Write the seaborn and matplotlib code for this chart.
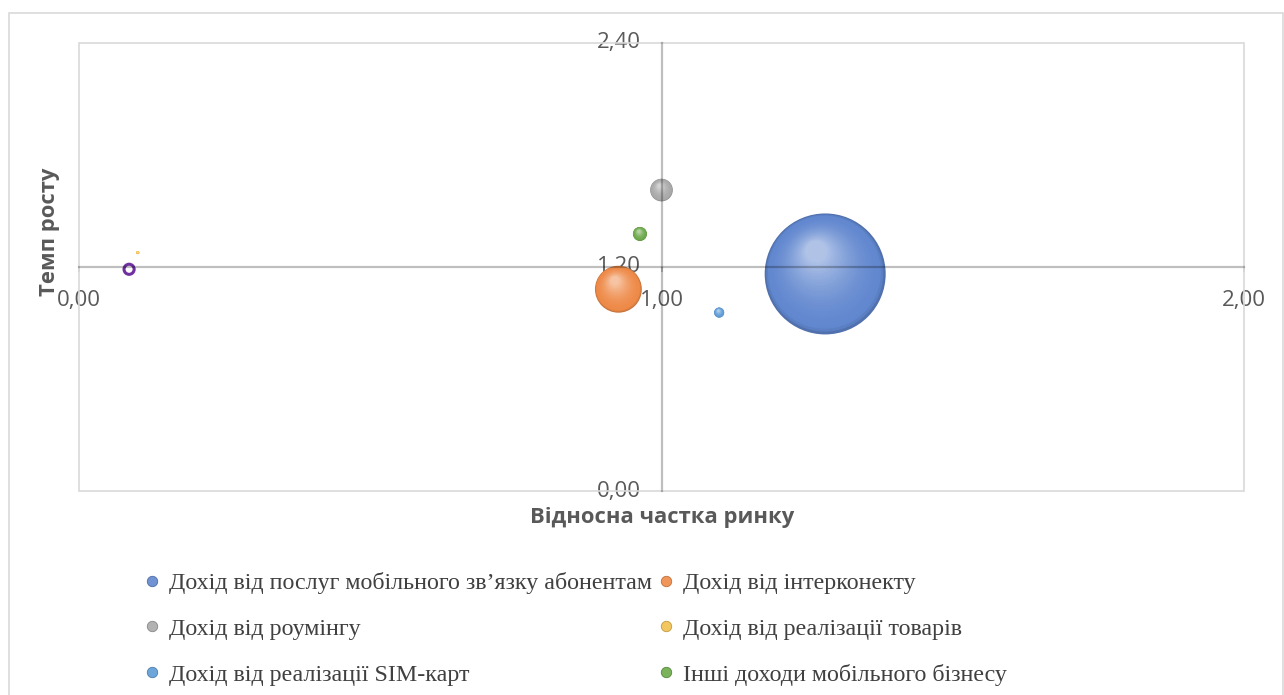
import matplotlib
matplotlib.use("Agg")
import matplotlib.pyplot as plt
from matplotlib.lines import Line2D
from matplotlib.patches import Rectangle
from matplotlib.colors import to_rgb
from matplotlib.transforms import ScaledTranslation
import seaborn as sns
import pandas as pd
import numpy as np

# ---- data ----
series = [
    "Дохід від послуг мобільного зв’язку абонентам",
    "Дохід від інтерконекту",
    "Дохід від роумінгу",
    "Дохід від реалізації товарів",
    "Дохід від реалізації SIM-карт",
    "Інші доходи мобільного бізнесу",
]
market_share = [1.281, 0.926, 1.000, 0.101, 1.099, 0.963]
growth_rate = [1.162, 1.080, 1.611, 1.276, 0.955, 1.376]
bubble_size = [100.0, 15.0, 3.5, 0.06, 0.7, 1.35]

# extra series with negative bubble size (drawn hollow, not in legend)
neg_x = [0.086]
neg_y = [1.187]
neg_size = [-0.7]

colors = ["#6187CF", "#EE8A48", "#A9A9A9", "#F2C14E", "#5E9CD6", "#6CA94A"]
neg_color = "#7030A0"

x_ticks = [0.0, 1.0, 2.0]
x_tick_labels = ["0,00", "1,00", "2,00"]
y_ticks = [0.0, 1.2, 2.4]
y_tick_labels = ["0,00", "1,20", "2,40"]

x_title = "Відносна частка ринку"
y_title = "Темп росту"

# ---- figure ----
sns.set_theme(style="white")
plt.rcParams["font.family"] = ["Open Sans", "DejaVu Sans"]

fig = plt.figure(figsize=(12.84, 6.95), dpi=100)
fig.patch.set_facecolor("white")
ax = fig.add_axes([79 / 1284, 1 - 491 / 695, (1244 - 79) / 1284, (491 - 42.7) / 695])

df = pd.DataFrame({
    "series": series,
    "x": market_share,
    "y": growth_rate,
    "size": [abs(v) for v in bubble_size],
})

MAX_AREA = 7590.0  # marker area (pt^2) for size 100


def blend(c, target, t):
    c = np.array(to_rgb(c))
    target = np.array(to_rgb(target))
    return tuple(c + (target - c) * t)


# shaded bubbles: layers shrinking toward an upper-left highlight
n_layers = 26
for i in range(len(series)):
    sub = df.iloc[[i]]
    radius_pt = np.sqrt(MAX_AREA * sub["size"].iloc[0] / 100.0) / 2.0
    for k in range(n_layers):
        frac = 1.0 - 0.82 * k / (n_layers - 1)
        if k == 0:
            col = blend(colors[i], "black", 0.16)
        elif k == 1:
            col = blend(colors[i], "black", 0.06)
        else:
            t = 0.5 * ((k - 1) / (n_layers - 2)) ** 1.8
            col = blend(colors[i], "white", t)
        sns.scatterplot(
            data=sub, x="x", y="y", color=col,
            size="size", sizes=(0, MAX_AREA * frac ** 2), size_norm=(0, 100),
            edgecolor="none", linewidth=0, legend=False, ax=ax, zorder=3 + k * 0.01,
        )
        shift = (1.0 - frac) * radius_pt
        coll = ax.collections[-1]
        coll.set_offset_transform(
            ax.transData + ScaledTranslation(-0.18 * shift / 72, 0.45 * shift / 72,
                                             fig.dpi_scale_trans))

# hollow negative bubble
neg_df = pd.DataFrame({"x": neg_x, "y": neg_y, "size": [abs(v) for v in neg_size]})
sns.scatterplot(
    data=neg_df, x="x", y="y", size="size", sizes=(0, MAX_AREA), size_norm=(0, 100),
    facecolor="none", edgecolor=neg_color, linewidth=2.2, legend=False, ax=ax, zorder=4,
)

ax.set_xlim(0, 2)
ax.set_ylim(0, 2.4)
ax.set_xlabel("")
ax.set_ylabel("")

for s in ["top", "right"]:
    ax.spines[s].set_visible(False)
ax.spines["left"].set_position(("data", 1.0))
ax.spines["bottom"].set_position(("data", 1.2))
for s in ["left", "bottom"]:
    ax.spines[s].set_color((0, 0, 0, 0.25))
    ax.spines[s].set_linewidth(1.6)
    ax.spines[s].set_zorder(10)

# plot area border
ax.add_patch(Rectangle((0, 0), 1, 1, transform=ax.transAxes, fill=False,
                       edgecolor="#D9D9D9", linewidth=1.2, zorder=1, clip_on=False))

axis_col = "#BFBFBF"
ax.set_xticks(x_ticks)
ax.set_xticklabels(x_tick_labels)
ax.set_yticks(y_ticks)
ax.set_yticklabels(y_tick_labels)
ax.tick_params(axis="x", bottom=True, length=3.5, width=1.2, color=axis_col,
               direction="out", pad=13, labelsize=16, labelcolor="#595959")
ax.tick_params(axis="y", left=False, length=0, pad=15, labelsize=16, labelcolor="#595959")
for lbl in ax.get_yticklabels():
    lbl.set_verticalalignment("center")

# axis titles
fig.text(662 / 1284, 1 - 517 / 695, x_title, ha="center", va="center",
         fontsize=15.8, fontweight="bold", color="#595959")
fig.text(50 / 1284, 1 - 232 / 695, y_title, ha="center", va="center",
         rotation=90, fontsize=15.8, fontweight="bold", color="#595959")

# legend (row-wise order in 2 columns)
order = [0, 2, 4, 1, 3, 5]
handles = [Line2D([0], [0], marker="o", linestyle="none", markersize=7.5,
                  markerfacecolor=blend(colors[i], "white", 0.1),
                  markeredgecolor=blend(colors[i], "black", 0.2),
                  markeredgewidth=0.6) for i in order]
labels = [series[i] for i in order]
leg = fig.legend(handles, labels, ncol=2, loc="upper left",
                 bbox_to_anchor=(140 / 1284, 1 - 572 / 695), frameon=False,
                 prop={"family": "Liberation Serif", "size": 17.3},
                 labelspacing=1.0, columnspacing=0.1, handletextpad=0.2,
                 handlelength=1.0, borderpad=0, borderaxespad=0)
for t in leg.get_texts():
    t.set_color("#404040")

# chart area border
fig.patches.append(Rectangle((9 / 1284, -0.01), (1283 - 9) / 1284, 1 - 13 / 695 + 0.01,
                             transform=fig.transFigure, fill=False,
                             edgecolor="#D9D9D9", linewidth=1.2))

fig.savefig("out.png", dpi=100, facecolor="white")
